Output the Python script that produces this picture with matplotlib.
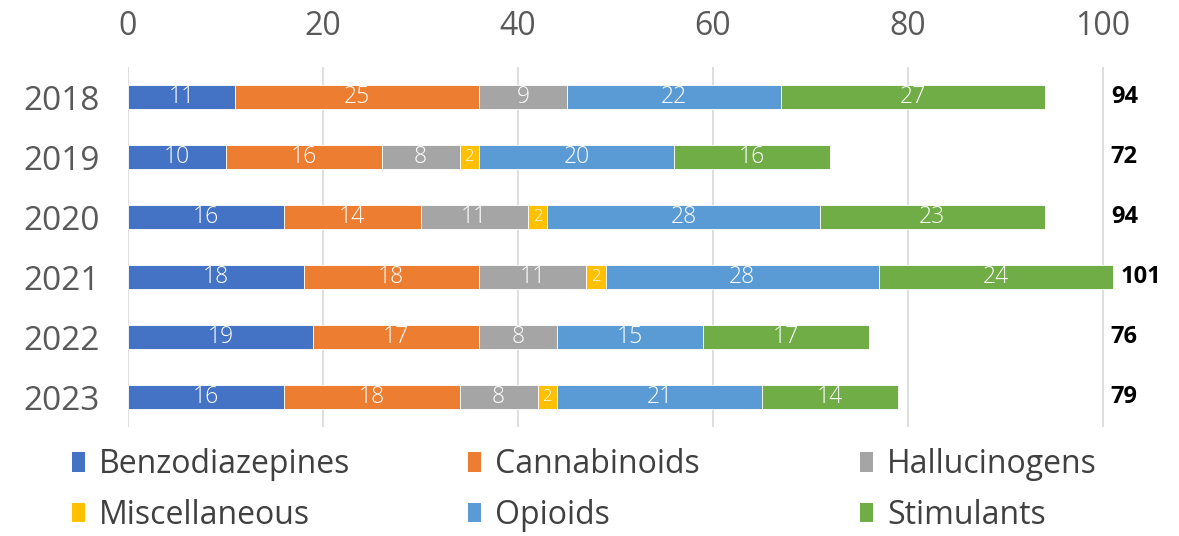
import numpy as np
import matplotlib
matplotlib.use("Agg")
import matplotlib.pyplot as plt
from matplotlib.patches import Patch

plt.rcParams['font.family'] = ['Open Sans', 'DejaVu Sans']

years = ["2018", "2019", "2020", "2021", "2022", "2023"]
categories = ["Benzodiazepines", "Cannabinoids", "Hallucinogens",
              "Miscellaneous", "Opioids", "Stimulants"]
benzodiazepines = [11, 10, 16, 18, 19, 16]
cannabinoids = [25, 16, 14, 18, 17, 18]
hallucinogens = [9, 8, 11, 11, 8, 8]
miscellaneous = [0, 2, 2, 2, 0, 2]
opioids = [22, 20, 28, 28, 15, 21]
stimulants = [27, 16, 23, 24, 17, 14]
x_ticks = [0, 20, 40, 60, 80, 100]

series = [benzodiazepines, cannabinoids, hallucinogens,
          miscellaneous, opioids, stimulants]
colors = ["#4472C4", "#ED7D31", "#A5A5A5", "#FFC000", "#5B9BD5", "#70AD47"]

W, H = 1179, 536
px_per_unit = 9.75
x_max = 102
fig = plt.figure(figsize=(W / 100, H / 100), dpi=100)
ax = fig.add_axes([128 / W, 1 - 427 / H, x_max * px_per_unit / W, 360 / H])

y = np.arange(len(years))
left = np.zeros(len(years))
for vals, color in zip(series, colors):
    vals = np.array(vals, dtype=float)
    ax.barh(y, vals, left=left, height=0.4, color=color,
            edgecolor="white", linewidth=0.6, zorder=3)
    for yi, l, v in zip(y, left, vals):
        if v > 0:
            fs = 12 if v <= 2 else 16.5
            ax.text(l + v / 2, yi, f"{int(v)}", ha="center", va="center",
                    color="white", fontsize=fs, fontweight="light", zorder=4)
    left += vals

# totals to the right of each bar
for yi, tot in zip(y, left):
    ax.text(max(tot, 100) + 0.8, yi, f"{int(tot)}", ha="left", va="center",
            fontsize=17, fontweight="bold", color="black")

ax.set_xlim(0, x_max)
ax.set_ylim(len(years) - 0.5, -0.5)
ax.set_yticks(y)
ax.set_yticklabels(years, fontsize=24, color="#595959")
ax.set_xticks(x_ticks)
ax.set_xticklabels([str(t) for t in x_ticks], fontsize=23, color="#595959")
ax.xaxis.tick_top()
ax.tick_params(axis="both", length=0)
ax.tick_params(axis="x", pad=17)
ax.tick_params(axis="y", pad=20)
ax.grid(axis="x", color="#D9D9D9", linewidth=1.2, zorder=0)
for s in ax.spines.values():
    s.set_visible(False)

# legend: one small legend per column so entries read row by row
handles = [Patch(facecolor=c) for c in colors]
col_x = [72, 468, 860]
for i, cx in enumerate(col_x):
    fig.legend([handles[i], handles[i + 3]], [categories[i], categories[i + 3]],
               loc="center left", bbox_to_anchor=(cx / W, 1 - 490 / H),
               frameon=False, fontsize=23, handlelength=0.4, handleheight=0.55,
               handletextpad=0.45, labelspacing=0.55, borderpad=0,
               borderaxespad=0, labelcolor="#404040")

fig.savefig("out.png", dpi=100)
